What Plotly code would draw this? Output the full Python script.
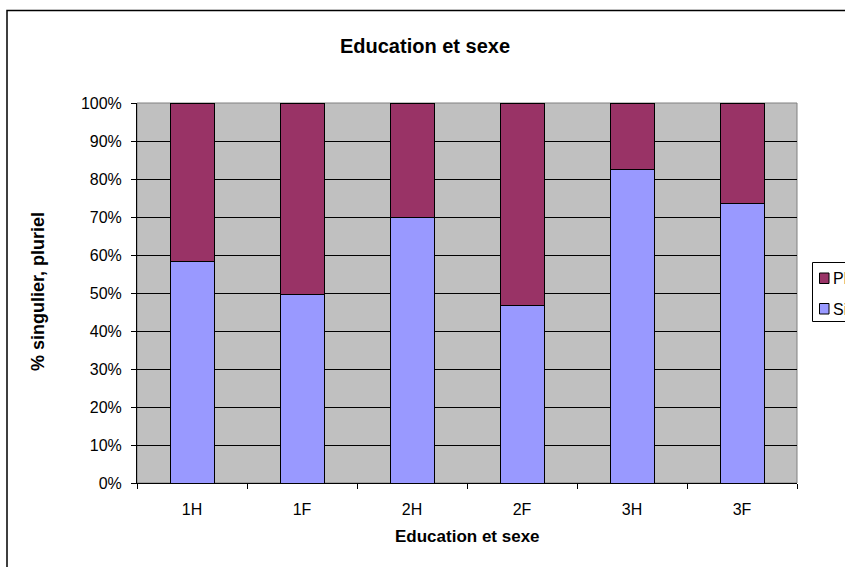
import plotly.graph_objects as go

categories = ["1H", "1F", "2H", "2F", "3H", "3F"]
singulier = [58.3, 49.5, 70.0, 46.8, 82.6, 73.5]
pluriel = [41.7, 50.5, 30.0, 53.2, 17.4, 26.5]
y_ticks = [0, 10, 20, 30, 40, 50, 60, 70, 80, 90, 100]
y_tick_labels = ["0%", "10%", "20%", "30%", "40%", "50%", "60%", "70%", "80%", "90%", "100%"]
legend_names = ["Pluriel", "Singulier"]

FONT = "Liberation Sans, Arial, sans-serif"
S_COLOR = "#9999FF"
P_COLOR = "#993366"

fig = go.Figure()
fig.add_trace(go.Bar(
    x=categories, y=singulier, name=legend_names[1],
    marker=dict(color=S_COLOR, line=dict(color="#000000", width=1)),
))
fig.add_trace(go.Bar(
    x=categories, y=pluriel, name=legend_names[0],
    marker=dict(color=P_COLOR, line=dict(color="#000000", width=1)),
))

# pixel geometry (page margin removed by post_script)
W, H = 845, 567
L, R, T, B = 137, 48, 103, 84
pw, ph = W - L - R, H - T - B


def px_x(fx):
    return (fx - L) / pw


def px_y(fy):
    return (H - B - fy) / ph


annotations = [
    dict(text="<b>Education et sexe</b>", xref="paper", yref="paper",
         x=0.5, y=px_y(536), xanchor="center", yanchor="middle",
         showarrow=False, font=dict(size=17)),
    dict(text="<b>% singulier, pluriel</b>", xref="paper", yref="paper",
         x=px_x(38), y=px_y(292), xanchor="center", yanchor="middle",
         textangle=-90, showarrow=False, font=dict(size=18)),
    dict(text=legend_names[0], xref="paper", yref="paper",
         x=px_x(831), y=px_y(278), xanchor="left", yanchor="middle",
         showarrow=False, font=dict(size=16)),
    dict(text=legend_names[1], xref="paper", yref="paper",
         x=px_x(831), y=px_y(309), xanchor="left", yanchor="middle",
         showarrow=False, font=dict(size=16)),
]

shapes = [
    # plot area border
    dict(type="rect", xref="paper", yref="paper", x0=0, x1=1, y0=0, y1=1,
         line=dict(color="#808080", width=1), layer="below"),
    # chart outer border
    dict(type="rect", xref="paper", yref="paper",
         x0=px_x(7), x1=px_x(W + 20), y0=px_y(H + 20), y1=px_y(10.5),
         line=dict(color="#000000", width=1.5), fillcolor="rgba(0,0,0,0)"),
    # legend box
    dict(type="rect", xref="paper", yref="paper",
         x0=px_x(812.5), x1=px_x(W + 20), y0=px_y(321.5), y1=px_y(262.5),
         line=dict(color="#000000", width=1), fillcolor="#FFFFFF"),
    # legend keys
    dict(type="rect", xref="paper", yref="paper",
         x0=px_x(819.5), x1=px_x(829), y0=px_y(283.5), y1=px_y(273),
         line=dict(color="#000000", width=1), fillcolor=P_COLOR),
    dict(type="rect", xref="paper", yref="paper",
         x0=px_x(819.5), x1=px_x(829), y0=px_y(314), y1=px_y(303.5),
         line=dict(color="#000000", width=1), fillcolor=S_COLOR),
]

fig.update_layout(
    width=W, height=H,
    barmode="stack", bargap=0.6,
    paper_bgcolor="#FFFFFF", plot_bgcolor="#C0C0C0",
    margin=dict(l=L, r=R, t=T, b=B, autoexpand=False),
    font=dict(family=FONT, size=16, color="#000000"),
    title=dict(text="<b>Education et sexe</b>", x=425 / W, xanchor="center",
               y=1 - 46 / H, yanchor="middle", font=dict(size=20)),
    showlegend=False,
    xaxis=dict(
        showgrid=False, showline=True, linecolor="#000000", linewidth=1,
        ticks="outside", tickson="boundaries", ticklen=5, tickcolor="#000000",
        tickfont=dict(size=16), ticklabelstandoff=12,
    ),
    yaxis=dict(
        range=[0, 100], tickmode="array", tickvals=y_ticks, ticktext=y_tick_labels,
        showgrid=True, gridcolor="#000000", gridwidth=1,
        showline=True, linecolor="#000000", linewidth=1,
        ticks="outside", ticklen=5, tickcolor="#000000",
        tickfont=dict(size=16), zeroline=False, ticklabelstandoff=6,
    ),
    annotations=annotations,
    shapes=shapes,
)

fig.write_html(
    "out.html",
    config={"displayModeBar": False},
    post_script="document.body.style.margin='0';document.body.style.overflow='hidden';",
)
